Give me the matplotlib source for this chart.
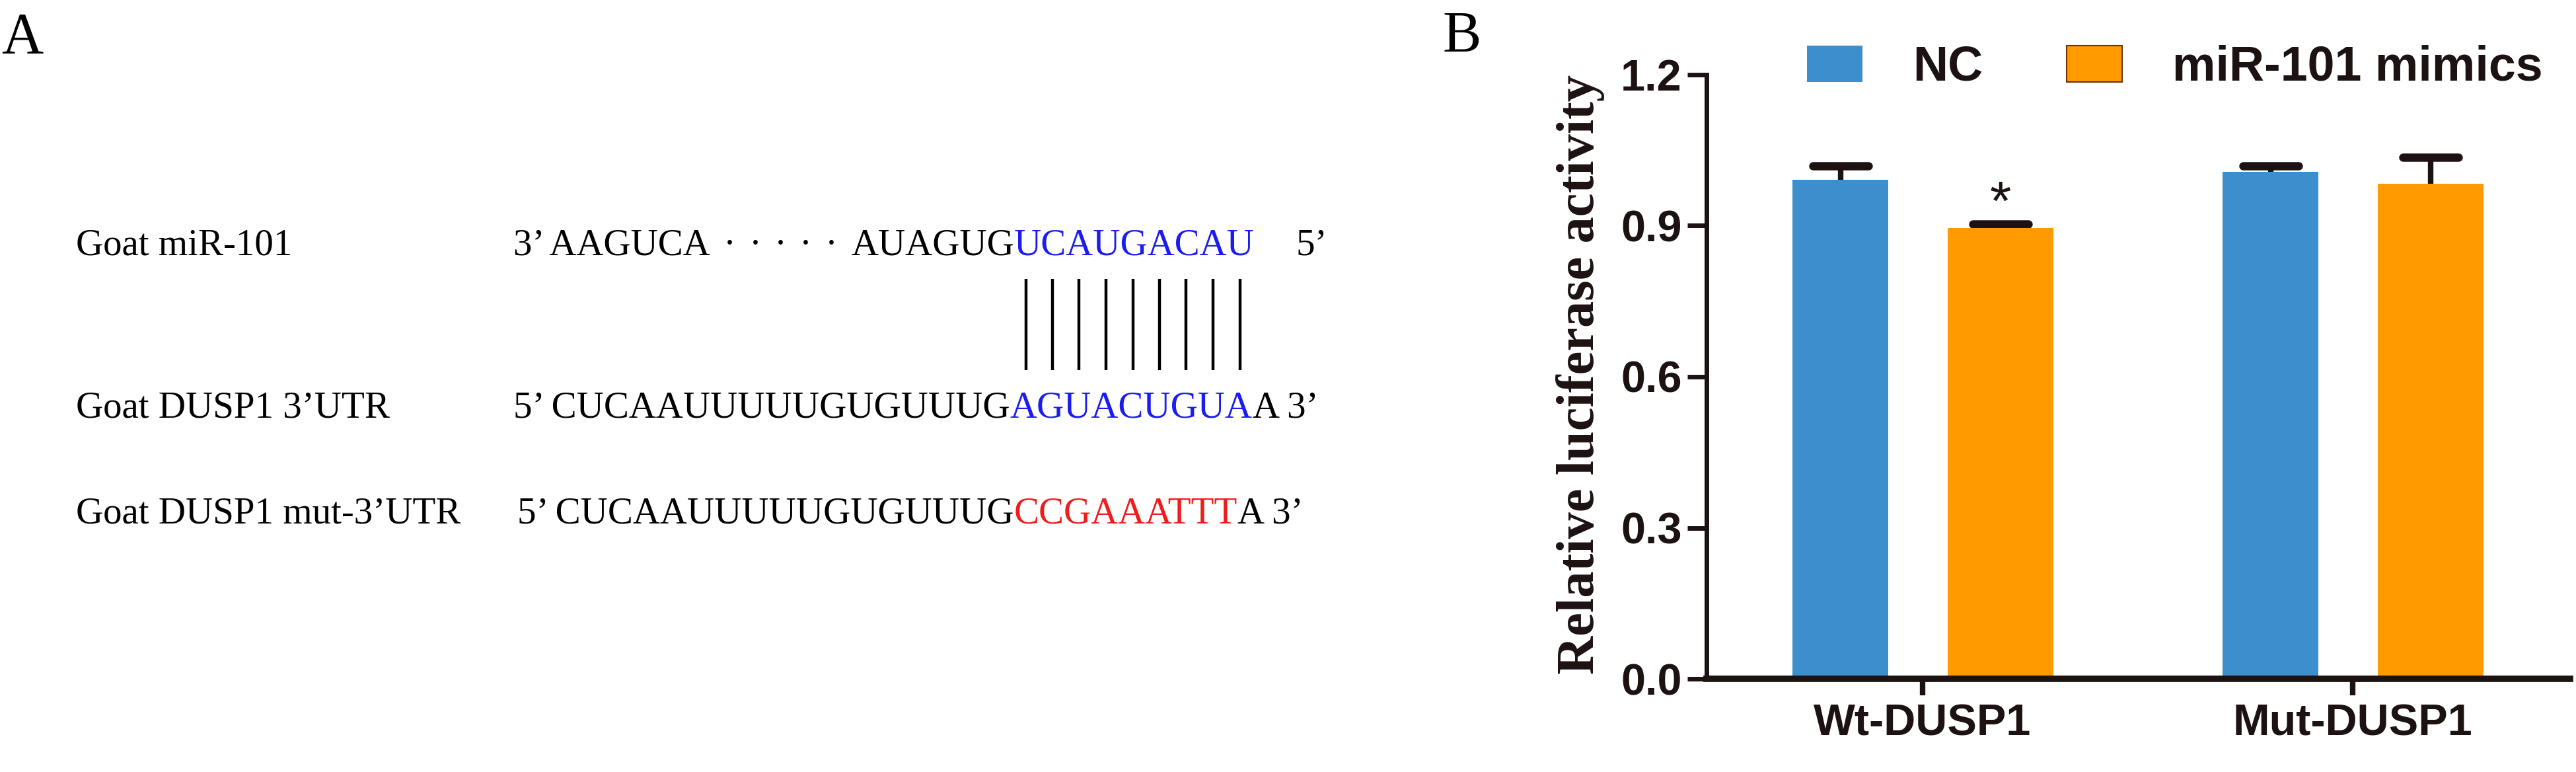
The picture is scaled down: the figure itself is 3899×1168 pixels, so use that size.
import matplotlib
matplotlib.use("Agg")
import matplotlib.pyplot as plt
import numpy as np
from matplotlib.font_manager import FontProperties
from matplotlib.markers import MarkerStyle

# dati del pannello B (saggio luciferasi)
gruppi = ["Wt-DUSP1", "Mut-DUSP1"]
serie = ["NC", "miR-101 mimics"]
nc_media = [0.991, 1.007]
nc_err = [0.028, 0.012]
mimic_media = [0.895, 0.983]
mimic_err = [0.008, 0.053]
signif = ["*", ""]
yticks = [0.0, 0.3, 0.6, 0.9, 1.2]

# sequenze del pannello A
etichette_righe = ["Goat miR-101", "Goat DUSP1 3\u2019UTR", "Goat DUSP1 mut-3\u2019UTR"]
mir_testa = "3\u2019 AAGUCA"
mir_puntino = "\u00b7"
n_puntini = 5
mir_coda = "AUAGUG"
mir_seed = "UCAUGACAU"
mir_fine = "5\u2019"
utr_testa = "5\u2019 CUCAAUUUUUGUGUUUG"
utr_sito = "AGUACUGUA"
mut_sito = "CCGAAATTT"
utr_fine = "A 3\u2019"

W, H = 3899, 1168
fig = plt.figure(figsize=(W / 100, H / 100), dpi=100)

blu = "#3D8ECC"
arancio = "#FF9A00"
scuro = "#1C1212"
seq_blu = "#1C1CF0"
seq_rosso = "#F01C1C"
serif = "Liberation Serif"
sans = "Liberation Sans"

# ---- pannello A: coordinate in pixel ----
axa = fig.add_axes([0, 0, 1, 1])
axa.set_xlim(0, W)
axa.set_ylim(H, 0)
axa.axis("off")

fs = 41
kw = dict(fontsize=fs, family=serif, va="baseline")
righe_y = [386, 631, 792]
y1, y2, y3 = righe_y

renderer = fig.canvas.get_renderer()
fp = FontProperties(family=serif, size=fs)


def larghezza(s):
    if not s:
        return 0
    return renderer.get_text_width_height_descent(s, fp, ismath=False)[0]


def centri(x0, s):
    return np.array([x0 + larghezza(s[:i]) + larghezza(s[i]) / 2 for i in range(len(s))])


for lab, yy in zip(etichette_righe, righe_y):
    axa.text(115, yy, lab, ha="left", **kw)

axa.text(777, y1, mir_testa, ha="left", **kw)
axa.text(1535, y1, mir_coda, ha="right", **kw)
axa.text(1535, y1, mir_seed, ha="left", color=seq_blu, **kw)
axa.text(1962, y1, mir_fine, ha="left", **kw)
# puntini distribuiti tra le due parti della sequenza
fine_testa = 777 + larghezza(mir_testa)
inizio_coda = 1535 - larghezza(mir_coda)
for xp in np.linspace(fine_testa + 30, inizio_coda - 30, n_puntini):
    axa.text(xp, y1, mir_puntino, ha="center", **kw)

axa.text(1529, y2, utr_testa, ha="right", **kw)
t2 = axa.text(1529, y2, utr_sito, ha="left", color=seq_blu, **kw)
axa.annotate(utr_fine, xy=(1, 0), xycoords=t2, ha="left", va="bottom",
             fontsize=fs, family=serif)

axa.text(1535, y3, utr_testa, ha="right", **kw)
t3 = axa.text(1535, y3, mut_sito, ha="left", color=seq_rosso, **kw)
axa.annotate(utr_fine, xy=(1, 0), xycoords=t3, ha="left", va="bottom",
             fontsize=fs, family=serif)

# linee di appaiamento al centro di ogni base
xs = (centri(1535, mir_seed) + centri(1529, utr_sito)) / 2
axa.vlines(xs, 422, 560, color="black", lw=3.2)

fig.text(2 / W, 1 - 80 / H, "A", family=serif, fontsize=63, va="baseline")
fig.text(2183 / W, 1 - 78 / H, "B", family=serif, fontsize=63, va="baseline")

# ---- pannello B ----
axb = fig.add_axes([2583 / W, 1 - 1027 / H, (3890 - 2583) / W, (1027 - 113) / H])
x = np.arange(len(gruppi))
b1 = axb.bar(x - 0.191, nc_media, 0.223, color=blu, zorder=2)
b2 = axb.bar(x + 0.181, mimic_media, 0.246, color=arancio, zorder=2)
for xx, mm, ee in [(x - 0.191, nc_media, nc_err), (x + 0.181, mimic_media, mimic_err)]:
    _, caps, _ = axb.errorbar(xx, mm, yerr=ee, fmt="none", ecolor=scuro,
                              elinewidth=6, capsize=30, capthick=9, zorder=1.5)
    for c in caps:
        c.set_marker(MarkerStyle("_", capstyle="round"))

for xx, top, s in zip(x + 0.181, np.array(mimic_media) + np.array(mimic_err), signif):
    if s:
        axb.annotate(s, xy=(xx, top), xytext=(0, 5), textcoords="offset points",
                     ha="center", va="baseline", fontsize=60, family=sans,
                     color=scuro)

axb.set_xlim(-0.502, 1.505)
axb.set_ylim(0, 1.2)
axb.set_yticks(yticks)
axb.set_yticklabels([f"{v:.1f}" for v in yticks])
axb.set_xticks(x)
axb.set_xticklabels(gruppi)
for s in ["top", "right"]:
    axb.spines[s].set_visible(False)
axb.spines["left"].set_linewidth(5)
axb.spines["bottom"].set_linewidth(7)
axb.spines["left"].set_color(scuro)
axb.spines["bottom"].set_color(scuro)
axb.tick_params(axis="y", length=21, width=5, pad=6, color=scuro, labelcolor=scuro, labelsize=48)
axb.tick_params(axis="x", length=18, width=6, pad=9, color=scuro, labelcolor=scuro, labelsize=48)
for lab in axb.get_xticklabels() + axb.get_yticklabels():
    lab.set_family(sans)
    lab.set_weight("bold")

fig.text(2392 / W, 1 - 566 / H, "Relative luciferase activity", rotation=90,
         ha="center", va="center", family=serif, weight="bold", fontsize=58, color=scuro)

leg = axb.legend(handles=[b1, b2], labels=serie, ncol=2, loc="upper left",
                 bbox_to_anchor=(2735 / W, 1 - 68 / H), bbox_transform=fig.transFigure,
                 frameon=False, prop=FontProperties(family=sans, weight="bold", size=53),
                 handlelength=1.14, handleheight=0.76, handletextpad=1.03,
                 columnspacing=1.73, borderpad=0, borderaxespad=0)
leg.legend_handles[1].set_edgecolor("#6B3300")
leg.legend_handles[1].set_linewidth(1.5)
for t in leg.get_texts():
    t.set_color(scuro)

fig.savefig("out.png", dpi=100)
